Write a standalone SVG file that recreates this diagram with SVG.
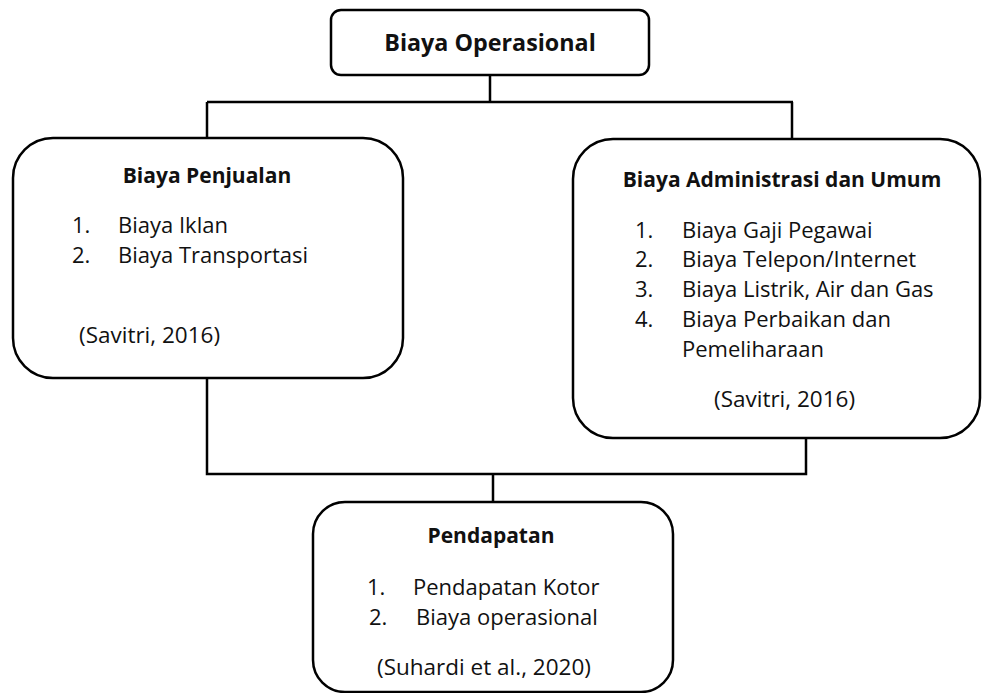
<svg xmlns="http://www.w3.org/2000/svg" width="982" height="693" viewBox="0 0 982 693">
<style>
.box{fill:#fff;stroke:#000;stroke-width:2.5}
.ln{fill:none;stroke:#000;stroke-width:2.5}
text{font-family:"Open Sans","Noto Sans",sans-serif;fill:#111}
.t{font-weight:bold;font-size:21px}
.tt{font-weight:bold;font-size:23.3px}
.i{font-size:22px}
.c{font-size:22.5px}
</style>
<rect width="982" height="693" fill="#fff"/>
<g id="connectors">
<path class="ln" d="M490,75 V102 M207,102 H793 M207,102 V138 M792,102 V140"/>
<path class="ln" d="M207,378 V474 H806 V438 M493,474 V502"/>
</g>
<g id="biaya-operasional">
<rect class="box" x="331" y="10" width="318" height="65" rx="10"/>
<text class="tt" x="490" y="51" text-anchor="middle">Biaya Operasional</text>
</g>
<g id="biaya-penjualan">
<rect class="box" x="13" y="138" width="390" height="240" rx="40"/>
<text class="t" x="207" y="183" text-anchor="middle">Biaya Penjualan</text>
<text class="i" x="72" y="233">1.</text><text class="i" x="118" y="233">Biaya Iklan</text>
<text class="i" x="72" y="263">2.</text><text class="i" x="118" y="263">Biaya Transportasi</text>
<text class="c" x="79" y="343">(Savitri, 2016)</text>
</g>
<g id="biaya-administrasi">
<rect class="box" x="573" y="139" width="407" height="299" rx="40"/>
<text class="t" x="782" y="187" text-anchor="middle">Biaya Administrasi dan Umum</text>
<text class="i" x="635" y="238">1.</text><text class="i" x="682" y="238">Biaya Gaji Pegawai</text>
<text class="i" x="635" y="267">2.</text><text class="i" x="682" y="267">Biaya Telepon/Internet</text>
<text class="i" x="635" y="297">3.</text><text class="i" x="682" y="297">Biaya Listrik, Air dan Gas</text>
<text class="i" x="635" y="327">4.</text><text class="i" x="682" y="327">Biaya Perbaikan dan</text>
<text class="i" x="682" y="357">Pemeliharaan</text>
<text class="c" x="714" y="407">(Savitri, 2016)</text>
</g>
<g id="pendapatan">
<rect class="box" x="313" y="502" width="360" height="190" rx="32"/>
<text class="t" x="491" y="543" text-anchor="middle">Pendapatan</text>
<text class="i" x="367" y="595">1.</text><text class="i" x="413" y="595">Pendapatan Kotor</text>
<text class="i" x="369" y="625">2.</text><text class="i" x="416" y="625">Biaya operasional</text>
<text class="c" x="377" y="675">(Suhardi et al., 2020)</text>
</g>
</svg>
